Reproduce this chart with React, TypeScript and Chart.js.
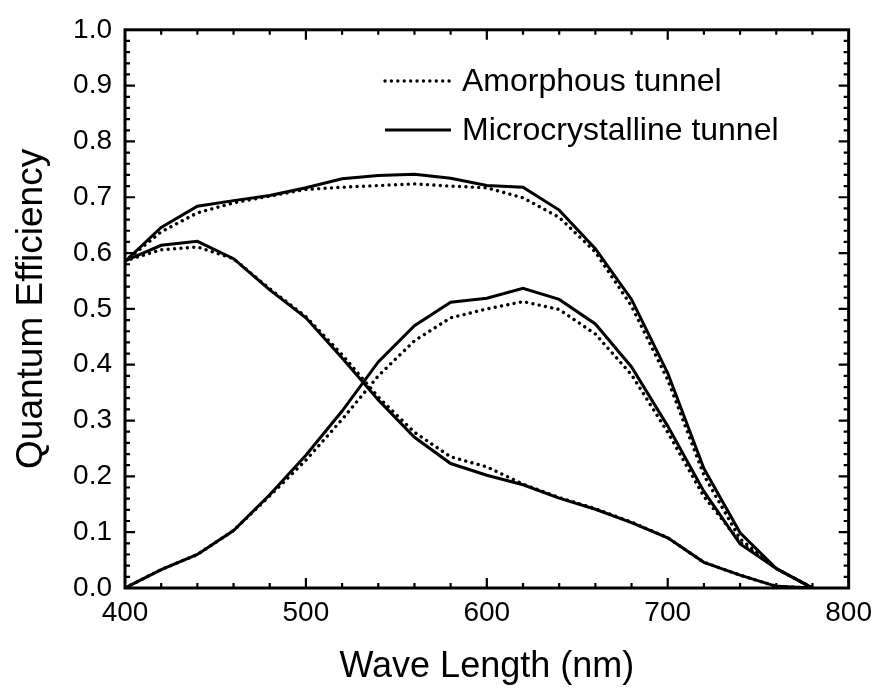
import React, { useEffect, useRef } from "react";
import { Chart, registerables } from "chart.js";

Chart.register(...registerables);

// ---- data ----
const wavelengths = [400, 420, 440, 460, 480, 500, 520, 540, 560, 580, 600, 620, 640, 660, 680, 700, 720, 740, 760, 780];

const amorphousTotal = [0.585, 0.638, 0.672, 0.69, 0.702, 0.714, 0.718, 0.721, 0.724, 0.72, 0.717, 0.699, 0.664, 0.602, 0.505, 0.373, 0.202, 0.088, 0.035, 0];
const amorphousTop = [0.586, 0.606, 0.611, 0.59, 0.536, 0.486, 0.418, 0.342, 0.279, 0.235, 0.217, 0.186, 0.162, 0.142, 0.118, 0.09, 0.046, 0.023, 0.003, 0];
const amorphousBottom = [0, 0.033, 0.06, 0.103, 0.165, 0.229, 0.302, 0.38, 0.443, 0.484, 0.5, 0.513, 0.499, 0.455, 0.382, 0.279, 0.164, 0.082, 0.035, 0];

const microTotal = [0.585, 0.646, 0.684, 0.694, 0.703, 0.717, 0.733, 0.739, 0.741, 0.734, 0.721, 0.718, 0.677, 0.608, 0.517, 0.385, 0.214, 0.099, 0.035, 0];
const microTop = [0.586, 0.614, 0.621, 0.59, 0.534, 0.484, 0.412, 0.337, 0.27, 0.223, 0.202, 0.185, 0.161, 0.141, 0.117, 0.09, 0.046, 0.023, 0.003, 0];
const microBottom = [0, 0.033, 0.06, 0.103, 0.167, 0.238, 0.317, 0.405, 0.47, 0.512, 0.519, 0.537, 0.517, 0.473, 0.396, 0.29, 0.173, 0.079, 0.035, 0];

const xMajorTicks = [400, 500, 600, 700, 800];
const yMajorTicks = [0, 0.1, 0.2, 0.3, 0.4, 0.5, 0.6, 0.7, 0.8, 0.9, 1.0];
const xMinorStep = 20;
const yMinorStep = 0.02;

const legendLabels = ["Amorphous tunnel", "Microcrystalline tunnel"];
const xTitle = "Wave Length (nm)";
const yTitle = "Quantum Efficiency";

const FONT = "'Liberation Sans', Arial, Helvetica, sans-serif";

const dotted = {
  borderColor: "#000",
  borderWidth: 3.4,
  borderDash: [0.01, 6.4],
  borderCapStyle: "round" as const,
};
const solid = {
  borderColor: "#000",
  borderWidth: 3,
  borderDash: [] as number[],
  borderCapStyle: "butt" as const,
};

const toPoints = (arr: number[]) => wavelengths.map((w, i) => ({ x: w, y: arr[i] }));

const framePlugin = {
  id: "frame",
  afterDatasetsDraw(chart: any) {
    const { ctx, chartArea } = chart;
    const { left, right, top, bottom } = chartArea;
    const xs = chart.scales.x;
    const ys = chart.scales.y;
    ctx.save();
    ctx.strokeStyle = "#000";
    ctx.lineWidth = 2.2;
    ctx.lineCap = "butt";
    const isMajor = (v: number, arr: number[]) => arr.some((m) => Math.abs(m - v) < 1e-6);
    for (let v = xs.min + xMinorStep; v < xs.max - 1e-6; v += xMinorStep) {
      const px = xs.getPixelForValue(v);
      const len = isMajor(v, xMajorTicks) ? 10 : 5;
      ctx.beginPath();
      ctx.moveTo(px, bottom);
      ctx.lineTo(px, bottom - len);
      ctx.moveTo(px, top);
      ctx.lineTo(px, top + len);
      ctx.stroke();
    }
    for (let i = 1; i * yMinorStep < ys.max - 1e-6; i++) {
      const v = ys.min + i * yMinorStep;
      const py = ys.getPixelForValue(v);
      const len = isMajor(v, yMajorTicks) ? 10 : 5;
      ctx.beginPath();
      ctx.moveTo(left, py);
      ctx.lineTo(left + len, py);
      ctx.moveTo(right, py);
      ctx.lineTo(right - len, py);
      ctx.stroke();
    }
    ctx.lineWidth = 3;
    ctx.strokeRect(left, top, right - left, bottom - top);
    ctx.restore();
  },
};

const legendPlugin = {
  id: "customLegend",
  afterDraw(chart: any) {
    const { ctx } = chart;
    const styles = [dotted, solid];
    const x0 = 385;
    const x1 = 451;
    const tx = 462;
    const rows = [81, 130];
    ctx.save();
    ctx.font = `32px ${FONT}`;
    ctx.fillStyle = "#000";
    ctx.textBaseline = "middle";
    ctx.textAlign = "left";
    legendLabels.forEach((label, i) => {
      const s = styles[i];
      ctx.strokeStyle = "#000";
      ctx.lineWidth = s.borderWidth;
      ctx.lineCap = s.borderCapStyle;
      ctx.setLineDash(s.borderDash);
      ctx.beginPath();
      ctx.moveTo(x0, rows[i]);
      ctx.lineTo(x1, rows[i]);
      ctx.stroke();
      ctx.setLineDash([]);
      ctx.fillText(label, tx, rows[i] + 1);
    });
    ctx.restore();
  },
};

export default function App() {
  const canvasRef = useRef<HTMLCanvasElement | null>(null);

  useEffect(() => {
    if (!canvasRef.current) return;
    const common = { pointRadius: 0, tension: 0, fill: false };
    const chart = new Chart(canvasRef.current, {
      type: "line",
      data: {
        datasets: [
          { label: legendLabels[0] + " total", data: toPoints(amorphousTotal), ...dotted, ...common },
          { label: legendLabels[0] + " top", data: toPoints(amorphousTop), ...dotted, ...common },
          { label: legendLabels[0] + " bottom", data: toPoints(amorphousBottom), ...dotted, ...common },
          { label: legendLabels[1] + " total", data: toPoints(microTotal), ...solid, ...common },
          { label: legendLabels[1] + " top", data: toPoints(microTop), ...solid, ...common },
          { label: legendLabels[1] + " bottom", data: toPoints(microBottom), ...solid, ...common },
        ] as any,
      },
      options: {
        responsive: false,
        animation: false,
        events: [],
        layout: { padding: { top: 21, right: 28, left: 0, bottom: 0 } },
        plugins: { legend: { display: false }, tooltip: { enabled: false } },
        scales: {
          x: {
            type: "linear",
            min: 400,
            max: 800,
            afterBuildTicks: (scale: any) => {
              scale.ticks = xMajorTicks.map((v) => ({ value: v }));
            },
            ticks: {
              color: "#000",
              font: { family: FONT, size: 28 },
              padding: 8,
              maxRotation: 0,
              callback: (v: any) => String(v),
            },
            grid: { display: false, drawTicks: false },
            border: { display: false },
            title: {
              display: true,
              text: xTitle,
              color: "#000",
              font: { family: FONT, size: 36 },
              padding: { top: 0, bottom: 3 },
            },
            afterFit: (scale: any) => {
              scale.height = 104;
            },
          },
          y: {
            type: "linear",
            min: 0,
            max: 1,
            afterBuildTicks: (scale: any) => {
              scale.ticks = yMajorTicks.map((v) => ({ value: v }));
            },
            ticks: {
              color: "#000",
              font: { family: FONT, size: 28 },
              padding: 13,
              callback: (v: any) => Number(v).toFixed(1),
            },
            grid: { display: false, drawTicks: false },
            border: { display: false },
            title: {
              display: true,
              text: yTitle,
              color: "#000",
              font: { family: FONT, size: 37 },
              padding: { top: 10, bottom: 0 },
            },
            afterFit: (scale: any) => {
              scale.width = 125;
            },
          },
        },
      } as any,
      plugins: [framePlugin, legendPlugin],
    });
    return () => chart.destroy();
  }, []);

  return (
    <div style={{ position: "fixed", left: 0, top: 0, width: 880, height: 692, background: "#fff" }}>
      <canvas ref={canvasRef} width={880} height={692} style={{ width: 880, height: 692, display: "block" }} />
    </div>
  );
}
